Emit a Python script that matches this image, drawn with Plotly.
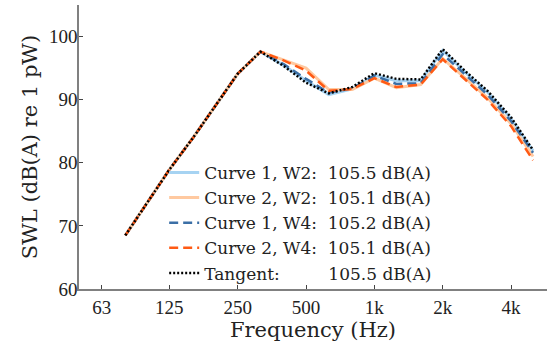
import plotly.graph_objects as go
import numpy as np

freqs = [80, 100, 125, 160, 200, 250, 315, 400, 500, 630, 800, 1000,
         1250, 1600, 2000, 2500, 3150, 4000, 5000]
low = [68.5, 73.7, 78.9, 84.1, 89.1, 94.1, 97.6]
curve1_w2 = low + [95.4, 93.0, 90.8, 91.7, 93.9, 93.0, 93.0, 97.8, 94.4, 91.2, 87.0, 81.9]
curve2_w2 = low + [96.3, 95.0, 91.6, 91.6, 93.4, 91.9, 92.4, 96.5, 93.5, 90.3, 86.2, 81.0]
curve1_w4 = low + [95.6, 93.3, 91.1, 91.8, 93.8, 92.5, 92.6, 97.2, 94.0, 90.8, 86.6, 81.6]
curve2_w4 = low + [96.2, 94.6, 91.4, 91.7, 93.4, 92.0, 92.4, 96.4, 93.3, 90.0, 85.8, 80.4]
tangent = low + [95.3, 92.7, 91.0, 92.0, 94.2, 93.3, 93.2, 98.0, 94.6, 91.4, 87.2, 82.0]

tick_vals = [63, 125, 250, 500, 1000, 2000, 4000]
tick_text = ["63", "125", "250", "500", "1k", "2k", "4k"]
y_ticks = [60, 70, 80, 90, 100]

NB = "\u00a0"
names = [
    "Curve 1, W2:" + NB * 2 + "105.5 dB(A)",
    "Curve 2, W2:" + NB * 2 + "105.1 dB(A)",
    "Curve 1, W4:" + NB * 2 + "105.2 dB(A)",
    "Curve 2, W4:" + NB * 2 + "105.1 dB(A)",
    "Tangent:" + NB * 9 + "105.5 dB(A)",
]

FONT = "Liberation Serif"
LFONT = "DejaVu Serif"
fig = go.Figure()
fig.add_trace(go.Scatter(x=freqs, y=curve1_w2, mode="lines", name=names[0],
                         line=dict(color="#a6d3f2", width=3)))
fig.add_trace(go.Scatter(x=freqs, y=curve2_w2, mode="lines", name=names[1],
                         line=dict(color="#ffc9a0", width=3)))
fig.add_trace(go.Scatter(x=freqs, y=curve1_w4, mode="lines", name=names[2],
                         line=dict(color="#3b6fa6", width=2.5, dash="9px,5px")))
fig.add_trace(go.Scatter(x=freqs, y=curve2_w4, mode="lines", name=names[3],
                         line=dict(color="#ff5a14", width=2.5, dash="9px,5px")))
fig.add_trace(go.Scatter(x=freqs, y=tangent, mode="lines", name=names[4],
                         line=dict(color="black", width=2.5, dash="2px,2px")))

fig.update_layout(
    width=547, height=348,
    margin=dict(l=79, r=0, t=5, b=59),
    plot_bgcolor="white", paper_bgcolor="white",
    font=dict(family=FONT, size=19, color="#222"),
    showlegend=True,
    legend=dict(x=0.182, y=0.472, xanchor="left", yanchor="top",
                bgcolor="rgba(0,0,0,0)", font=dict(family=LFONT, size=17, color="#222"),
                tracegroupgap=0, itemwidth=30),
)
fig.update_xaxes(type="log", range=[np.log10(50), np.log10(5760)],
                 tickvals=tick_vals, ticktext=tick_text, automargin=False,
                 showline=True, linecolor="#808080", linewidth=1.5,
                 ticks="inside", ticklen=4, tickcolor="#444", tickwidth=1,
                 showgrid=False, zeroline=False,
                 title=dict(text="Frequency (Hz)", standoff=3,
                            font=dict(family=LFONT, size=21)))
fig.update_yaxes(range=[60, 105], tickvals=y_ticks, automargin=False,
                 showline=True, linecolor="#808080", linewidth=1.5,
                 ticks="inside", ticklen=4, tickcolor="#444", tickwidth=1,
                 ticklabelstandoff=-4,
                 showgrid=False, zeroline=False,
                 title=dict(text="SWL (dB(A) re 1 pW)", standoff=6,
                            font=dict(family=LFONT, size=21)))

fig.write_html("out.html", config={"displayModeBar": False},
               post_script="document.body.style.margin='0px';")
